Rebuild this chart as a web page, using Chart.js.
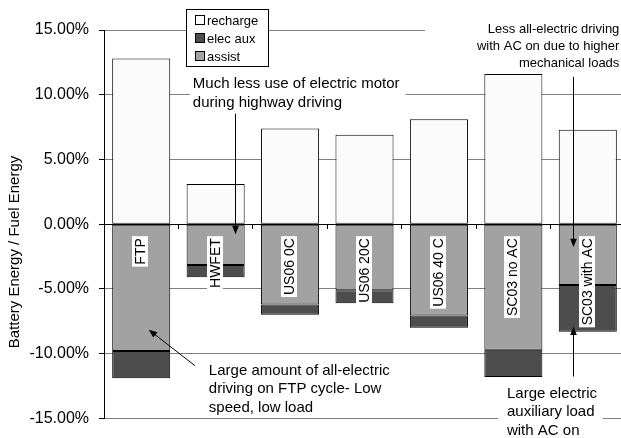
<!DOCTYPE html>
<html>
<head>
<meta charset="utf-8">
<script src="https://cdn.jsdelivr.net/npm/chart.js@4.4.1/dist/chart.umd.min.js"></script>
<style>
html, body { margin: 0; padding: 0; background: #fff; overflow: hidden; }
#wrap { width: 625px; height: 438px; }
</style>
</head>
<body>
<div id="wrap"><canvas id="chart"></canvas></div>
<script>
const categories = ['FTP', 'HWFET', 'US06 0C', 'US06 20C', 'US06 40 C', 'SC03 no AC', 'SC03 with AC'];
const recharge = [12.8, 3.1, 7.4, 6.9, 8.1, 11.6, 7.3];
const assist = [-9.8, -3.15, -6.2, -5.1, -7.05, -9.7, -4.7];
const elecAux = [-2.1, -0.95, -0.8, -1.0, -0.95, -2.1, -3.6];
const yTicks = [-15, -10, -5, 0, 5, 10, 15];

const FONT = '"Liberation Sans", Arial, sans-serif';
Chart.defaults.font.family = FONT;
Chart.defaults.color = '#000';

// callout texts, placed in data units (category index, percent)
const notes = [
    { lines: ['Much less use of electric motor', 'during highway driving'], at: [0.693, 10.92], align: 'left', size: 15, lead: 19, pad: [3, 6, 2, 2], arrow: [[1.258, 8.54], [1.258, -0.77]] },
    { lines: ['Less all-electric driving', 'with AC on due to higher', 'mechanical loads'], at: [6.424, 15.15], align: 'right', size: 13, lead: 17, pad: [52, 8, 2, 2], arrow: [[5.802, 11.38], [5.802, -1.77]] },
    { lines: ['Large amount of all-electric', 'driving on FTP cycle- Low', 'speed, low load'], at: [0.909, -11.23], align: 'left', size: 15, lead: 18.5, pad: [2, 2, 2, 2], arrow: [[0.72, -10.92], [0.101, -8.15]] },
    { lines: ['Large electric', 'auxiliary load', 'with AC on'], at: [4.914, -13.0], align: 'left', size: 15, lead: 18.5, pad: [9, 6, 3, 3], arrow: [[5.802, -11.77], [5.802, -7.92]] },
];

function drawArrow(ctx, x1, y1, x2, y2) {
    const a = Math.atan2(y2 - y1, x2 - x1);
    const len = 9;
    ctx.beginPath();
    ctx.moveTo(x1, y1);
    ctx.lineTo(x2 - 4 * Math.cos(a), y2 - 4 * Math.sin(a));
    ctx.stroke();
    ctx.beginPath();
    ctx.moveTo(x2, y2);
    ctx.lineTo(x2 - len * Math.cos(a - 0.38), y2 - len * Math.sin(a - 0.38));
    ctx.lineTo(x2 - len * Math.cos(a + 0.38), y2 - len * Math.sin(a + 0.38));
    ctx.closePath();
    ctx.fill();
}

const barLabels = {
    id: 'barLabels',
    afterDatasetsDraw(chart) {
        const ctx = chart.ctx;
        const meta = chart.getDatasetMeta(0);
        const y0 = chart.scales.y.getPixelForValue(0);
        ctx.save();
        ctx.font = '14px ' + FONT;
        meta.data.forEach((bar, i) => {
            const text = categories[i];
            const w = ctx.measureText(text).width;
            ctx.save();
            ctx.translate(Math.round(bar.x) - 1, y0 + 14);
            ctx.rotate(-Math.PI / 2);
            ctx.fillStyle = '#fff';
            ctx.fillRect(-w - 2, -8, w + 4, 16);
            ctx.fillStyle = '#000';
            ctx.textAlign = 'right';
            ctx.textBaseline = 'middle';
            ctx.fillText(text, 0, 1);
            ctx.restore();
        });
        ctx.restore();
    }
};

const extras = {
    id: 'extras',
    afterDraw(chart) {
        const ctx = chart.ctx;
        const xs = chart.scales.x, ys = chart.scales.y;
        ctx.save();

        // axis title
        ctx.save();
        ctx.translate(15, 252);
        ctx.rotate(-Math.PI / 2);
        ctx.font = '15px ' + FONT;
        ctx.fillStyle = '#000';
        ctx.textAlign = 'center';
        ctx.textBaseline = 'middle';
        ctx.fillText('Battery Energy / Fuel Energy', 0, 0);
        ctx.restore();

        // legend box
        const order = [0, 2, 1];
        ctx.fillStyle = '#fff';
        ctx.fillRect(186, 9, 82, 57);
        ctx.strokeStyle = '#000';
        ctx.lineWidth = 1;
        ctx.strokeRect(186.5, 9.5, 82, 57);
        ctx.font = '13px ' + FONT;
        ctx.textBaseline = 'middle';
        ctx.textAlign = 'left';
        order.forEach((di, r) => {
            const ds = chart.data.datasets[di];
            const cy = 20 + r * 18;
            ctx.fillStyle = ds.backgroundColor;
            ctx.fillRect(195.5, cy - 4.5, 9, 9);
            ctx.strokeStyle = '#000';
            ctx.strokeRect(195.5, cy - 4.5, 9, 9);
            ctx.fillStyle = '#000';
            ctx.fillText(ds.label, 207, cy + 1);
        });

        // callouts
        notes.forEach(n => {
            ctx.font = n.size + 'px ' + FONT;
            const tx = xs.getPixelForValue(n.at[0]);
            const ty = ys.getPixelForValue(n.at[1]);
            const widths = n.lines.map(l => ctx.measureText(l).width);
            const w = Math.max(...widths);
            const left = n.align === 'left' ? tx : tx - w;
            const top = ty - n.size / 2 - 1;
            const h = n.lead * (n.lines.length - 1) + n.size + 2;
            ctx.fillStyle = '#fff';
            ctx.fillRect(left - n.pad[0], top - n.pad[2], w + n.pad[0] + n.pad[1], h + n.pad[2] + n.pad[3]);
            ctx.fillStyle = '#000';
            ctx.textAlign = n.align;
            ctx.textBaseline = 'middle';
            n.lines.forEach((l, k) => ctx.fillText(l, tx, ty + k * n.lead + 1));

            const [p1, p2] = n.arrow;
            let x1 = xs.getPixelForValue(p1[0]), y1 = ys.getPixelForValue(p1[1]);
            let x2 = xs.getPixelForValue(p2[0]), y2 = ys.getPixelForValue(p2[1]);
            if (Math.abs(x1 - x2) < 1) { x1 = x2 = Math.round(x1) + 0.5; }
            ctx.strokeStyle = '#000';
            ctx.lineWidth = 1;
            drawArrow(ctx, x1, y1, x2, y2);
        });
        ctx.restore();
    }
};

new Chart(document.getElementById('chart'), {
    type: 'bar',
    data: {
        labels: categories,
        datasets: [
            { label: 'recharge', data: recharge, backgroundColor: '#fbfbfb' },
            { label: 'assist', data: assist, backgroundColor: '#a2a2a2' },
            { label: 'elec aux', data: elecAux, backgroundColor: '#4d4d4d' },
        ],
    },
    options: {
        responsive: true,
        maintainAspectRatio: false,
        animation: false,
        layout: { padding: { top: 30, right: 0, bottom: 14.4, left: 0 } },
        datasets: {
            bar: {
                borderColor: '#000',
                borderWidth: 1,
                borderSkipped: false,
                categoryPercentage: 1,
                barPercentage: 0.78,
            },
        },
        scales: {
            x: {
                stacked: true,
                position: { y: 0 },
                grid: { display: true, drawOnChartArea: false, offset: true, tickLength: 4, color: '#000' },
                border: { color: '#000' },
                ticks: { display: false },
            },
            y: {
                stacked: true,
                min: -15,
                max: 15,
                afterBuildTicks: (s) => { s.ticks = yTicks.map(v => ({ value: v })); },
                afterFit: (s) => { s.width = 104; },
                grid: {
                    color: (c) => (c.tick && c.tick.value === 0 ? '#000' : '#808080'),
                    tickColor: '#000',
                    tickLength: 5,
                },
                border: { color: '#000' },
                ticks: {
                    padding: 10,
                    font: { size: 16 },
                    color: '#000',
                    callback: (v) => v.toFixed(2) + '%',
                },
            },
        },
        plugins: {
            legend: { display: false },
            tooltip: { enabled: false },
        },
    },
    plugins: [barLabels, extras],
});
</script>
</body>
</html>
